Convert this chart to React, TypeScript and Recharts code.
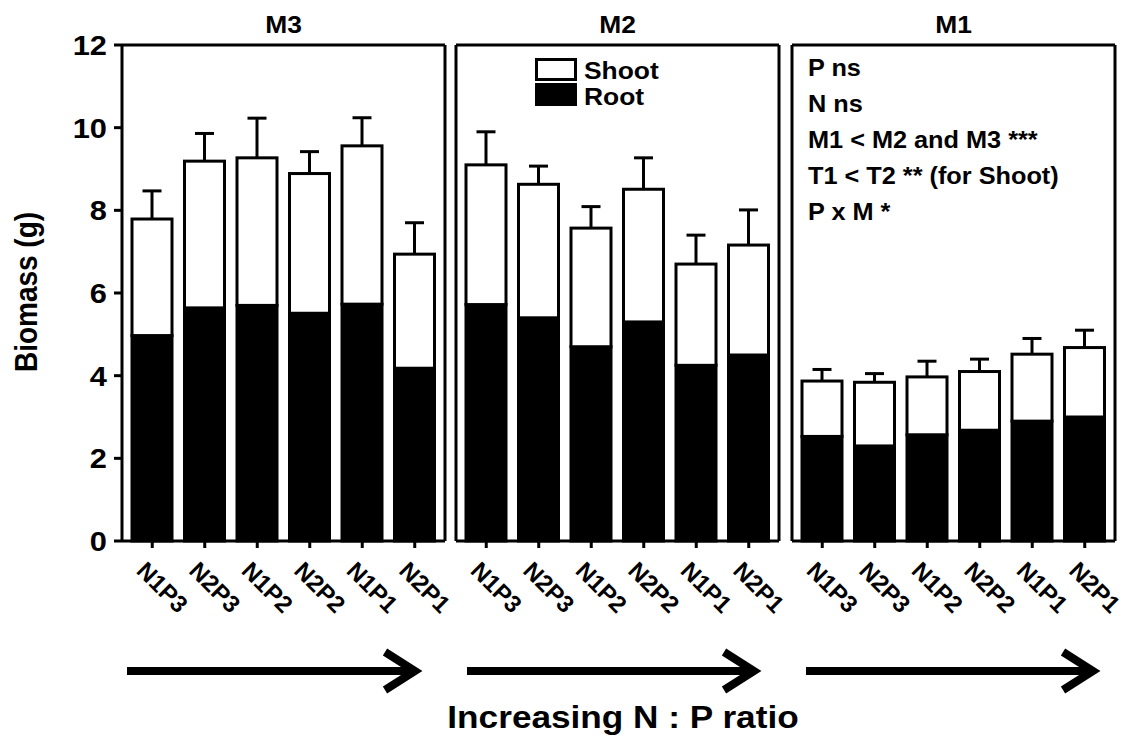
import React from "react";
import { BarChart, Bar, XAxis, YAxis } from "recharts";

const categories = ["N1P3", "N2P3", "N1P2", "N2P2", "N1P1", "N2P1"];

const m3Root = [4.97, 5.64, 5.7, 5.51, 5.73, 4.18];
const m3Shoot = [2.82, 3.55, 3.57, 3.38, 3.83, 2.76];
const m3Err = [0.68, 0.67, 0.96, 0.53, 0.68, 0.76];

const m2Root = [5.72, 5.4, 4.7, 5.3, 4.25, 4.5];
const m2Shoot = [3.38, 3.23, 2.87, 3.21, 2.45, 2.66];
const m2Err = [0.8, 0.44, 0.52, 0.76, 0.7, 0.85];

const m1Root = [2.53, 2.3, 2.57, 2.68, 2.9, 3.0];
const m1Shoot = [1.34, 1.54, 1.4, 1.42, 1.62, 1.68];
const m1Err = [0.28, 0.21, 0.38, 0.3, 0.38, 0.42];

const yTicks = [0, 2, 4, 6, 8, 10, 12];
const stats = ["P ns", "N ns", "M1 < M2 and M3 ***", "T1 < T2 ** (for Shoot)", "P x M *"];

const FONT = "'Liberation Sans', Arial, Helvetica, sans-serif";
const LINE = { stroke: "#000", strokeWidth: 3 };

const build = (root: number[], shoot: number[], err: number[]) =>
  categories.map((name, i) => ({ name, root: root[i], shoot: shoot[i], err: err[i] }));

// plot area of every panel: 323 px wide, y 45..541
const panels = [
  { title: "M3", left: 0, width: 460, ml: 0, yw: 122, data: build(m3Root, m3Shoot, m3Err) },
  { title: "M2", left: 440, width: 360, ml: 15, yw: 1, data: build(m2Root, m2Shoot, m2Err) },
  { title: "M1", left: 776, width: 358, ml: 15, yw: 1, data: build(m1Root, m1Shoot, m1Err) },
];

// white shoot segment with the upper error bar on top
function ShootShape(props: any) {
  const { x, y, width, height, payload } = props;
  const ppu = payload.shoot ? height / payload.shoot : 0;
  const cx = x + width / 2;
  const top = y - payload.err * ppu;
  return (
    <g>
      <rect x={x} y={y} width={width} height={height} fill="#fff" stroke="#000" strokeWidth={3} />
      <line x1={cx} y1={y} x2={cx} y2={top} stroke="#000" strokeWidth={3} />
      <line x1={cx - 9.5} y1={top} x2={cx + 9.5} y2={top} stroke="#000" strokeWidth={3} />
    </g>
  );
}

function YTick({ x, y, payload }: any) {
  return (
    <g transform={`translate(${x},${y}) scale(1.1,1)`}>
      <text textAnchor="end" dy="0.36em" fontSize={28} fontWeight="bold" fontFamily={FONT} fill="#000">
        {payload.value}
      </text>
    </g>
  );
}

function XTick({ x, payload }: any) {
  return (
    <g transform={`translate(${x - 17},572) rotate(45)`}>
      <text textAnchor="start" fontSize={24} fontWeight="bold" fontFamily={FONT} fill="#000">
        {payload.value}
      </text>
    </g>
  );
}

function Panel({ p }: { p: (typeof panels)[number] }) {
  const first = p.title === "M3";
  return (
    <div style={{ position: "absolute", left: p.left, top: 0 }}>
      <BarChart
        width={p.width}
        height={640}
        data={p.data}
        margin={{ top: 44, right: p.width - p.ml - p.yw - 323 - 1, bottom: 69, left: p.ml }}
        barSize={40}
      >
        <XAxis
          dataKey="name"
          axisLine={LINE}
          tickLine={LINE}
          tickSize={7}
          tick={<XTick />}
          interval={0}
          padding={{ left: 4, right: 4 }}
          height={30}
        />
        <XAxis
          xAxisId="top"
          orientation="top"
          dataKey="name"
          axisLine={LINE}
          tickLine={false}
          tick={false}
          height={1}
        />
        <YAxis
          domain={[0, 12]}
          ticks={yTicks}
          width={p.yw}
          axisLine={LINE}
          tickLine={first ? LINE : false}
          tickSize={8}
          tickMargin={7}
          tick={first ? <YTick /> : false}
          interval={0}
        />
        <YAxis
          yAxisId="right"
          orientation="right"
          domain={[0, 12]}
          width={1}
          axisLine={LINE}
          tickLine={false}
          tick={false}
        />
        <Bar dataKey="root" stackId="a" fill="#000" stroke="#000" strokeWidth={3} isAnimationActive={false} />
        <Bar dataKey="shoot" stackId="a" shape={<ShootShape />} isAnimationActive={false} />
      </BarChart>
    </div>
  );
}

function Arrow({ x1, x2 }: { x1: number; x2: number }) {
  const y = 671;
  return (
    <g stroke="#000" strokeWidth={8} fill="none">
      <line x1={x1} y1={y} x2={x2 - 5} y2={y} />
      <polyline points={`${x2 - 30},${y - 19} ${x2},${y} ${x2 - 30},${y + 19}`} strokeLinejoin="miter" />
    </g>
  );
}

export default function App() {
  return (
    <div style={{ position: "absolute", left: 0, top: 0, width: 1134, height: 738, background: "#fff" }}>
      {panels.map((p) => (
        <Panel key={p.title} p={p} />
      ))}
      <svg
        width={1134}
        height={738}
        style={{ position: "absolute", left: 0, top: 0, pointerEvents: "none" }}
        fontFamily={FONT}
        fontWeight="bold"
      >
        {panels.map((p) => (
          <g key={p.title} transform={`translate(${p.left + p.ml + p.yw + 161.5},33) scale(1.1,1)`}>
            <text textAnchor="middle" fontSize={24}>{p.title}</text>
          </g>
        ))}
        <g transform="translate(37,292) scale(1.1,1) rotate(-90)">
          <text textAnchor="middle" fontSize={28}>Biomass (g)</text>
        </g>

        {/* legend */}
        <rect x={536.5} y={59.5} width={39} height={20} fill="#fff" stroke="#000" strokeWidth={3} />
        <rect x={535} y={83} width={42} height={23} fill="#000" />
        <g transform="translate(584,79) scale(1.1,1)">
          <text fontSize={24}>Shoot</text>
        </g>
        <g transform="translate(584,105) scale(1.1,1)">
          <text fontSize={24}>Root</text>
        </g>

        {/* stats */}
        {stats.map((s, i) => (
          <g key={s} transform={`translate(808,${76 + i * 36}) scale(1.1,1)`}>
            <text fontSize={23}>{s}</text>
          </g>
        ))}

        <Arrow x1={127} x2={415} />
        <Arrow x1={467} x2={754} />
        <Arrow x1={806} x2={1093} />
        <g transform="translate(623,728) scale(1.1,1)">
          <text textAnchor="middle" fontSize={32}>Increasing N : P ratio</text>
        </g>
      </svg>
    </div>
  );
}
